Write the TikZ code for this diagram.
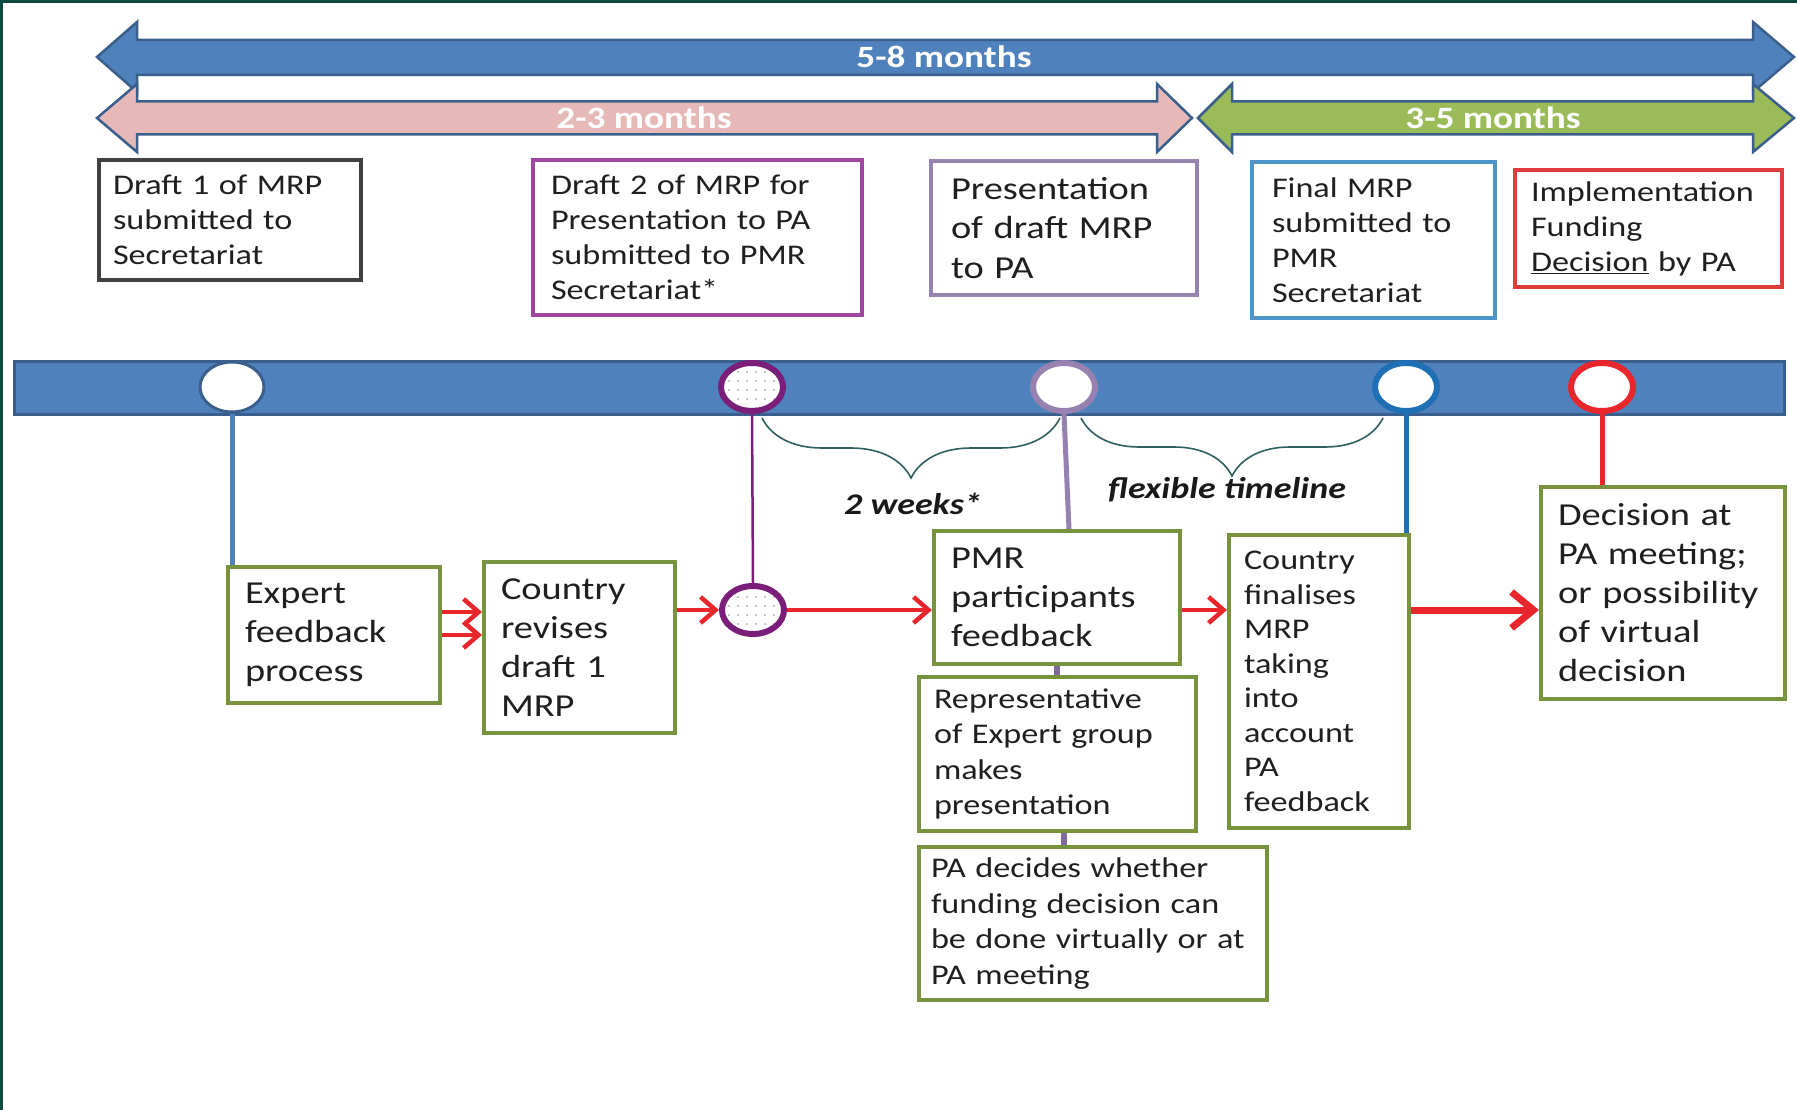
\documentclass[tikz,border=0pt]{standalone}
\usepackage{fontspec}
\setmainfont{Carlito}[FakeStretch=1.2]
\usetikzlibrary{shapes.geometric,arrows.meta,decorations.pathreplacing,patterns.meta,positioning}
\definecolor{barblue}{HTML}{4F81BD}
\definecolor{baredge}{HTML}{3A5F8C}
\definecolor{spanpink}{HTML}{E6B9B8}
\definecolor{spangreen}{HTML}{9BBB59}
\definecolor{boxgray}{HTML}{404040}
\definecolor{plum}{HTML}{A0469E}
\definecolor{darkplum}{HTML}{7B1E7A}
\definecolor{lilac}{HTML}{9681B0}
\definecolor{skyblue}{HTML}{4C96CB}
\definecolor{deepblue}{HTML}{1F6FB5}
\definecolor{boxred}{HTML}{E03C3C}
\definecolor{arrowred}{HTML}{E8262B}
\definecolor{boxgreen}{HTML}{77933C}
\definecolor{stubgray}{HTML}{7F6A9A}
\definecolor{bracecol}{HTML}{2F5F5F}
\definecolor{framecol}{HTML}{0B4A40}

\begin{document}
\begin{tikzpicture}[x=1pt,y=-1pt,
  stagebox/.style={draw, line width=4pt, anchor=north west, align=left,
    inner ysep=4pt, text=black!88},
  greenbox/.style={stagebox, draw=boxgreen},
  toptxt/.style={font={\fontsize{28.5}{35}\selectfont}},
  bigtxt/.style={font={\fontsize{32}{39}\selectfont}},
  midtxt/.style={font={\fontsize{28.5}{35.5}\selectfont}},
  milestone/.style={ellipse, draw, fill=white, line width=6pt,
    minimum width=62pt, minimum height=48pt, inner sep=0pt},
  dotfill/.style={preaction={fill=white}, pattern={Dots[distance=9pt,radius=0.8pt]},
    pattern color=black!45},
  spanlbl/.style={font={\bfseries\fontsize{31}{36}\selectfont}, text=white},
  bracelbl/.style={font={\bfseries\itshape\fontsize{30}{36}\selectfont}, text=black!90},
  redarrow/.style={draw=arrowred, line width=4.5pt, -{Straight Barb[length=15pt,width=26pt]}},
  tlbrace/.style={draw=bracecol, line width=1.6pt, decorate,
    decoration={brace, mirror, amplitude=60pt}},
  stub/.style={draw=stubgray, line width=6pt}]
  \useasboundingbox (0,0) rectangle (1797,1110);
  %slide frame
  \fill[framecol] (0,0) rectangle (1797,3);
  \fill[framecol] (0,0) rectangle (3,1110);
  %duration arrows
  \filldraw[fill=barblue, draw=baredge, line width=2.5pt]
    (97,57) -- (137,22) -- (137,40) -- (1753,40) -- (1753,22) -- (1794,57)
    -- (1753,92) -- (1753,75) -- (137,75) -- (137,92) -- cycle;
  \filldraw[fill=spanpink, draw=baredge, line width=2.5pt]
    (97,118) -- (137,84) -- (137,101.5) -- (1157,101.5) -- (1157,84) -- (1192,118)
    -- (1157,152) -- (1157,134.5) -- (137,134.5) -- (137,152) -- cycle;
  \filldraw[fill=spangreen, draw=baredge, line width=2.5pt]
    (1198,118) -- (1232,84) -- (1232,101.5) -- (1753,101.5) -- (1753,84) -- (1794,118)
    -- (1753,152) -- (1753,134.5) -- (1232,134.5) -- (1232,152) -- cycle;
  \node[spanlbl] (span58) at (944,57) {5-8 months};
  \node[spanlbl] (span23) at (644,118) {2-3 months};
  \node[spanlbl] (span35) at (1493,118) {3-5 months};
  %milestone boxes above the bar
  \node[stagebox, toptxt, draw=boxgray, inner xsep=14pt, text width=234pt, minimum height=120pt]
    (draftone) at (97,158) {Draft 1 of MRP\\submitted to\\Secretariat};
  \node[stagebox, toptxt, draw=plum, inner xsep=18pt, text width=293pt, minimum height=155pt]
    (drafttwo) at (531,158) {Draft 2 of MRP for\\Presentation to PA\\submitted to PMR\\Secretariat*};
  \node[stagebox, font={\fontsize{32}{39.5}\selectfont}, draw=lilac, inner xsep=20pt,
    text width=226pt, minimum height=134pt]
    (present) at (929,159) {Presentation\\of draft MRP\\to PA};
  \node[stagebox, toptxt, draw=skyblue, inner xsep=20pt, text width=203pt, minimum height=156pt]
    (finalmrp) at (1250,160) {Final MRP\\submitted to\\PMR\\Secretariat};
  \node[stagebox, toptxt, draw=boxred, inner xsep=16pt, text width=235pt, minimum height=117pt]
    (implement) at (1513,168) {Implementation\\Funding\\\underline{Decision} by PA};
  %timeline bar and its milestones
  \filldraw[fill=barblue, draw=baredge, line width=3pt] (14,361) rectangle (1784,414);
  \node[milestone, draw=baredge, line width=3pt, minimum width=64pt, minimum height=50pt]
    (m1) at (232,387) {};
  \node[milestone, draw=darkplum, dotfill] (m2) at (752,387) {};
  \node[milestone, draw=lilac] (m3) at (1064,387) {};
  \node[milestone, draw=deepblue] (m4) at (1406,387) {};
  \node[milestone, draw=arrowred] (m5) at (1602,387) {};
  %braces under the bar
  \coordinate (wkl) at (762,418);
  \coordinate (wkr) at (1060,418);
  \coordinate (flxl) at (1081,418);
  \coordinate (flxr) at (1383,418);
  \draw[tlbrace] (wkl) -- (wkr);
  \draw[tlbrace, decoration={amplitude=58pt}] (flxl) -- (flxr);
  \node[bracelbl] (twoweeks) at (913,504) {2 weeks*};
  \node[bracelbl] (flexible) at (1227,490) {flexible timeline};
  %process boxes below the bar
  \node[greenbox, bigtxt, inner xsep=17pt, text width=178pt, minimum height=136pt]
    (expert) at (226,565) {Expert\\feedback\\process};
  \node[greenbox, bigtxt, inner xsep=17pt, text width=157pt, minimum height=171pt]
    (revise) at (482,560) {Country\\revises\\draft 1\\MRP};
  \node[milestone, draw=darkplum, dotfill] (relay) at (753,610) {};
  \node[greenbox, bigtxt, inner xsep=17pt, text width=212pt, minimum height=133pt]
    (pmrfb) at (932,529) {PMR\\participants\\feedback};
  \node[greenbox, midtxt, inner xsep=15pt, text width=247pt, minimum height=154pt]
    (repexp) at (917,675) {Representative\\of Expert group\\makes\\presentation};
  \node[greenbox, midtxt, inner xsep=12pt, text width=324pt, minimum height=153pt]
    (padecide) at (917,845) {PA decides whether\\funding decision can\\be done virtually or at\\PA meeting};
  \node[greenbox, font={\fontsize{28.5}{34.5}\selectfont}, inner xsep=15pt, text width=150pt,
    minimum height=293pt]
    (finalise) at (1227,533) {Country\\finalises\\MRP\\taking\\into\\account\\PA\\feedback};
  \node[greenbox, bigtxt, inner xsep=17pt, text width=210pt, minimum height=212pt]
    (decision) at (1539,485) {Decision at\\PA meeting;\\or possibility\\of virtual\\decision};
  %drop lines from the milestones
  \draw[draw=barblue, line width=5pt] (m1.south) -- (m1 |- expert.north);
  \draw[draw=darkplum, line width=2.5pt] (m2.south) -- (relay.north);
  \draw[draw=lilac, line width=5pt] (m3.south) -- ([xshift=5pt]m3.south |- pmrfb.north);
  \draw[draw=deepblue, line width=5pt] (m4.south) -- (m4 |- finalise.north);
  \draw[draw=arrowred, line width=5pt] (m5.south) -- (m5 |- decision.north);
  \draw[stub] (pmrfb.south) -- (pmrfb.south |- repexp.north);
  \draw[stub] ([xshift=6pt]repexp.south) -- ([xshift=6pt]repexp.south |- padecide.north);
  %flow arrows
  \draw[redarrow] ([yshift=23pt]expert.east) -- ([yshift=23pt]expert.east -| revise.west);
  \draw[redarrow] (expert.east) -- (expert.east -| revise.west);
  \draw[redarrow] (revise.east |- relay) -- (relay.west);
  \draw[redarrow] (relay.east) -- (relay -| pmrfb.west);
  \draw[redarrow] (pmrfb.east |- relay) -- (finalise.west |- relay);
  \draw[redarrow, line width=7pt, -{Straight Barb[length=22pt,width=36pt]}]
    (finalise.east |- relay) -- (decision.west |- relay);
\end{tikzpicture}
\end{document}
